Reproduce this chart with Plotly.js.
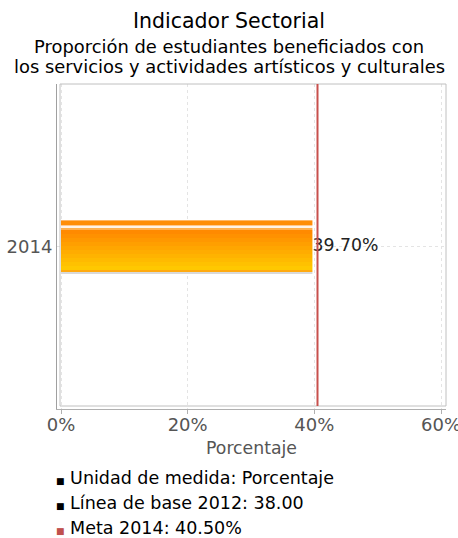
<!DOCTYPE html>
<html>
<head>
<meta charset="utf-8">
<script src="https://cdn.plot.ly/plotly-3.0.1.min.js"></script>
<style>
html,body{margin:0;padding:0;background:#fff;}
#chart{width:458px;height:538px;}
</style>
</head>
<body>
<div id="chart"></div>
<script>
// ---- data ----
const categories = ['2014'];
const values = [39.7];
const valueLabels = ['39.70%'];
const metaValue = 40.5;
const xTickVals = [0, 20, 40, 60];
const xTickLabels = ['0%', '20%', '40%', '60%'];
const titleText = 'Indicador Sectorial';
const subtitleLines = ['Proporción de estudiantes beneficiados con', 'los servicios y actividades artísticos y culturales'];
const infoLabels = ['Unidad de medida: Porcentaje', 'Línea de base 2012: 38.00', 'Meta 2014: 40.50%'];
const infoColors = ['#000000', '#000000', '#C0504D'];

// ---- layout geometry (pixels) ----
const W = 458, H = 538;
const L = 57, R = 446, T = 84, B = 409;
const PW = R - L, PH = B - T;
const FONT = 'DejaVu Sans, sans-serif';
const center = (T + B) / 2;
const toCat = y => (center - y) / PH; // pixel y -> category units offset

// gradient bands of the bar (top px, bottom px, colour)
const bands = [
  [220, 221, '#FFB868'],
  [221, 225, '#FF8E08'],
  [225, 226, '#FFC890'],
  [226, 228, '#FFF4E8'],
  [228, 230, '#FFB050'],
];
const gradTop = 230, gradBot = 270, nSteps = 10;
const c0 = [255, 138, 0], c1 = [255, 200, 0];
for (let i = 0; i < nSteps; i++) {
  const t = i / (nSteps - 1);
  const c = c0.map((v, k) => Math.round(v + (c1[k] - v) * t));
  const y0 = gradTop + (gradBot - gradTop) * i / nSteps;
  const y1 = gradTop + (gradBot - gradTop) * (i + 1) / nSteps;
  bands.push([y0, y1, `rgb(${c[0]},${c[1]},${c[2]})`]);
}
bands.push([270, 272, '#FFAA10']);
bands.push([272, 274, '#D9D9D9']);

const traces = bands.map(b => ({
  type: 'bar',
  orientation: 'h',
  y: categories,
  x: values,
  offset: toCat(b[1]),
  width: toCat(b[0]) - toCat(b[1]),
  marker: {color: b[2], line: {width: 0}},
  hoverinfo: 'skip',
  showlegend: false
}));

traces.push({
  type: 'scatter',
  mode: 'text',
  y: categories,
  x: values,
  text: valueLabels,
  textposition: 'middle right',
  textfont: {family: FONT, size: 17.3, color: '#222'},
  showlegend: false,
  hoverinfo: 'skip'
});

const pxPerUnit = (441 - 61) / 60;
const xMin = -(61 - L) / pxPerUnit;
const xMax = (R - 61) / pxPerUnit;

const annotations = [];
const subY = [46, 67];
subtitleLines.forEach((t, i) => {
  annotations.push({
    xref: 'paper', yref: 'paper',
    x: (229 - L) / PW, y: (B - subY[i]) / PH,
    xanchor: 'center', yanchor: 'middle',
    text: t,
    showarrow: false,
    font: {family: FONT, size: 17.9, color: '#000'}
  });
});
const infoY = [478, 503, 528];
infoLabels.forEach((t, i) => {
  annotations.push({
    xref: 'paper', yref: 'paper',
    x: (54 - L) / PW, y: (B - infoY[i]) / PH,
    xanchor: 'left', yanchor: 'middle',
    text: `<span style="color:${infoColors[i]};font-size:9px">■</span> ${t}`,
    showarrow: false,
    font: {family: FONT, size: 17.5, color: '#000'}
  });
});

const layout = {
  width: W, height: H,
  margin: {l: L, r: W - R, t: T, b: H - B, pad: 0},
  paper_bgcolor: '#fff',
  plot_bgcolor: '#fff',
  barmode: 'overlay',
  showlegend: false,
  title: {
    text: titleText,
    xref: 'container', x: 0.5, xanchor: 'center',
    yref: 'container', y: 1 - 21 / H, yanchor: 'middle',
    font: {family: FONT, size: 20.5, color: '#000'}
  },
  xaxis: {
    range: [xMin, xMax],
    tickmode: 'array',
    tickvals: xTickVals,
    ticktext: xTickLabels,
    ticklabeloverflow: 'allow',
    ticklabelstandoff: -5,
    showline: true, linecolor: '#b0b0b0', linewidth: 1,
    ticks: 'outside', ticklen: 4, tickcolor: '#b0b0b0',
    showgrid: true, gridcolor: '#e4e4e4', griddash: 'dot',
    zeroline: false,
    tickfont: {family: FONT, size: 18, color: '#555'},
    title: {text: 'Porcentaje', font: {family: FONT, size: 17.3, color: '#555'}, standoff: 8},
    fixedrange: true
  },
  yaxis: {
    type: 'category',
    range: [-0.5, 0.5],
    showline: true, linecolor: '#a0a0a0', linewidth: 1,
    ticks: '',
    showgrid: true, gridcolor: '#e4e4e4', griddash: 'dot',
    zeroline: false,
    tickfont: {family: FONT, size: 18, color: '#555'},
    fixedrange: true
  },
  shapes: [
    {type: 'rect', xref: 'paper', yref: 'paper',
     x0: 3 / PW, x1: 1, y0: 3 / PH, y1: 1,
     line: {color: '#c0c0c0', width: 1}, fillcolor: 'rgba(0,0,0,0)', layer: 'above'},
    {type: 'line', xref: 'x', yref: 'paper',
     x0: metaValue, x1: metaValue, y0: 3 / PH, y1: 1,
     line: {color: '#C8504D', width: 2}, layer: 'above'}
  ],
  annotations: annotations
};

Plotly.newPlot('chart', traces, layout, {displayModeBar: false, staticPlot: true});
</script>
</body>
</html>
